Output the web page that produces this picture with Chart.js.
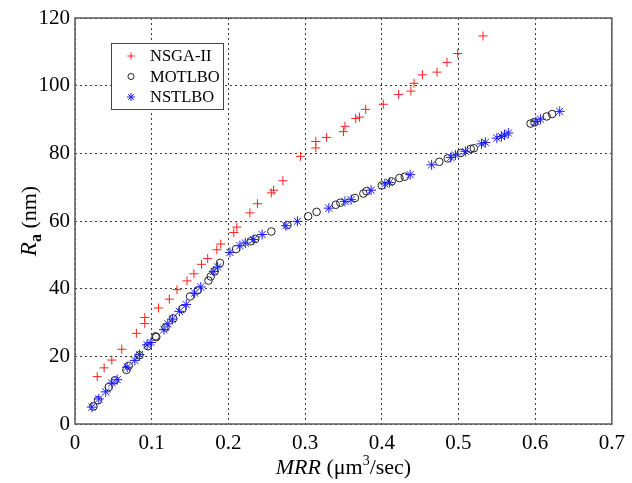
<!DOCTYPE html>
<html>
<head>
<meta charset="utf-8">
<script src="https://cdn.jsdelivr.net/npm/chart.js@4"></script>
<style>
  body { margin: 0; background: #fff; }
  #wrap { width: 632px; height: 483px; }
</style>
</head>
<body>
<div id="wrap"><canvas id="paretoChart" width="632" height="483"></canvas></div>
<script>
// values: MRR (x) vs Ra (y)
const nsgaX = [0.029,0.038,0.048,0.061,0.080,0.091,0.091,0.109,0.123,0.133,0.146,0.155,0.165,0.173,0.185,0.190,0.207,0.211,0.228,0.238,0.256,0.259,0.271,0.294,0.314,0.314,0.328,0.350,0.352,0.366,0.371,0.379,0.402,0.422,0.438,0.442,0.453,0.472,0.485,0.499,0.532];
const nsgaY = [14.0,16.6,18.9,22.1,26.8,29.7,31.5,34.3,36.9,39.7,42.3,44.4,47.2,48.9,51.5,53.2,56.6,58.2,62.4,65.1,68.3,69.1,71.9,79.1,81.6,83.5,84.7,86.4,88.0,90.3,90.7,93.0,94.5,97.4,98.4,100.7,103.2,104.0,106.9,109.5,114.7];

const motlboX = [0.024,0.030,0.044,0.052,0.067,0.070,0.084,0.095,0.105,0.106,0.118,0.128,0.140,0.150,0.160,0.174,0.177,0.182,0.189,0.210,0.229,0.235,0.256,0.277,0.304,0.315,0.340,0.346,0.365,0.376,0.380,0.400,0.413,0.423,0.430,0.475,0.486,0.503,0.516,0.520,0.594,0.599,0.615,0.622];
const motlboY = [5.2,7.0,10.9,12.9,16.0,17.2,20.3,23.0,25.9,25.7,28.5,31.2,34.0,37.7,39.5,42.4,43.6,45.1,47.6,51.7,54.0,54.7,56.9,58.8,61.4,62.7,64.8,65.4,66.8,68.1,68.8,70.5,71.7,72.7,73.1,77.5,78.5,80.1,81.3,81.5,88.8,89.2,90.9,91.6];

const nstlboX = [0.022,0.031,0.040,0.048,0.055,0.068,0.078,0.084,0.094,0.099,0.116,0.121,0.127,0.136,0.145,0.156,0.164,0.181,0.186,0.202,0.215,0.222,0.233,0.244,0.275,0.290,0.331,0.352,0.360,0.386,0.404,0.410,0.437,0.465,0.490,0.496,0.509,0.530,0.535,0.550,0.556,0.560,0.565,0.601,0.607,0.632];
const nstlboY = [5.0,7.4,9.5,12.1,13.1,16.8,18.8,20.5,23.4,24.1,27.9,29.6,31.0,33.3,35.3,38.7,40.5,45.1,46.4,50.7,52.7,53.5,54.5,56.0,58.6,59.9,63.8,65.8,66.3,69.1,71.0,71.4,73.7,76.6,78.8,79.5,80.6,82.8,83.2,84.5,85.0,85.4,86.0,89.4,90.1,92.4];

const xTicks = [0, 0.1, 0.2, 0.3, 0.4, 0.5, 0.6, 0.7];
const yTicks = [0, 20, 40, 60, 80, 100, 120];

const toPoints = (xs, ys) => xs.map((x, i) => ({ x: x, y: ys[i] }));

const SERIF = '"Liberation Serif", "DejaVu Serif", serif';

const series = [
    { label: 'NSGA-II', pointStyle: 'cross', color: '#ff2020', radius: 4.5 },
    { label: 'MOTLBO', pointStyle: 'circle', color: '#222222', radius: 3.8 },
    { label: 'NSTLBO', pointStyle: 'star', color: '#1a1aff', radius: 5 }
];

const LEG = { x: 111, y: 43, w: 112, h: 66, row: 20.5 };

// frame, axis titles and the boxed legend, drawn like the MATLAB figure
const figureDecor = {
    id: 'figureDecor',
    afterDatasetsDraw(chart) {
        const ctx = chart.ctx;
        const a = chart.chartArea;
        ctx.save();
        ctx.strokeStyle = '#5a5a5a';
        ctx.lineWidth = 1.5;
        ctx.setLineDash([]);
        ctx.strokeRect(a.left, a.top, a.right - a.left, a.bottom - a.top);

        // legend box
        ctx.fillStyle = '#fff';
        ctx.fillRect(LEG.x, LEG.y, LEG.w, LEG.h);
        ctx.strokeStyle = '#444';
        ctx.lineWidth = 1;
        ctx.strokeRect(LEG.x + 0.5, LEG.y + 0.5, LEG.w, LEG.h);
        ctx.font = '16.5px ' + SERIF;
        ctx.textBaseline = 'middle';
        ctx.textAlign = 'left';
        series.forEach((s, i) => {
            const y = LEG.y + 13 + i * LEG.row;
            ctx.fillStyle = '#000';
            ctx.fillText(s.label, 150, y + 1);
            ctx.fillStyle = 'rgba(0,0,0,0)';
            ctx.strokeStyle = s.color;
            ctx.lineWidth = 1;
            Chart.helpers.drawPoint(ctx, {
                pointStyle: s.pointStyle, radius: s.radius * 0.8, rotation: 0, borderWidth: 1
            }, 131, y);
        });
        ctx.restore();

        // x title: MRR (µm³/sec)
        ctx.save();
        ctx.fillStyle = '#000';
        ctx.textBaseline = 'alphabetic';
        const parts = [
            { t: 'MRR', f: 'italic 22px ' + SERIF, dy: 0 },
            { t: ' (\u03bcm', f: '22px ' + SERIF, dy: 0 },
            { t: '3', f: '14px ' + SERIF, dy: -9 },
            { t: '/sec)', f: '22px ' + SERIF, dy: 0 }
        ];
        let total = 0;
        parts.forEach(p => { ctx.font = p.f; total += ctx.measureText(p.t).width; });
        let x = (a.left + a.right) / 2 - total / 2;
        const by = 474;
        parts.forEach(p => {
            ctx.font = p.f;
            ctx.fillText(p.t, x, by + p.dy);
            x += ctx.measureText(p.t).width;
        });

        // y title: Ra (nm), rotated
        ctx.translate(36, (a.top + a.bottom) / 2);
        ctx.rotate(-Math.PI / 2);
        const yparts = [
            { t: 'R', f: 'italic 23px ' + SERIF, dy: 0 },
            { t: 'a', f: 'bold 16px ' + SERIF, dy: 5 },
            { t: ' (nm)', f: '22px ' + SERIF, dy: 0 }
        ];
        total = 0;
        yparts.forEach(p => { ctx.font = p.f; total += ctx.measureText(p.t).width; });
        x = -total / 2;
        yparts.forEach(p => {
            ctx.font = p.f;
            ctx.fillText(p.t, x, p.dy);
            x += ctx.measureText(p.t).width;
        });
        ctx.restore();
    }
};

const gridLines = {
    color: '#3a3a3a',
    lineWidth: 1,
    drawTicks: false
};

new Chart(document.getElementById('paretoChart'), {
    type: 'scatter',
    data: {
        datasets: [
            { label: 'NSTLBO', data: toPoints(nstlboX, nstlboY), pointStyle: 'star',
              pointRadius: 5, borderColor: '#1a1aff', backgroundColor: 'rgba(0,0,0,0)', borderWidth: 1 },
            { label: 'MOTLBO', data: toPoints(motlboX, motlboY), pointStyle: 'circle',
              pointRadius: 3.8, borderColor: '#222222', backgroundColor: 'rgba(0,0,0,0)', borderWidth: 1 },
            { label: 'NSGA-II', data: toPoints(nsgaX, nsgaY), pointStyle: 'cross',
              pointRadius: 4.5, borderColor: '#ff2020', backgroundColor: 'rgba(0,0,0,0)', borderWidth: 1 }
        ]
    },
    options: {
        responsive: false,
        animation: false,
        layout: { padding: { left: 0, right: 17, top: 18, bottom: 0 } },
        plugins: { legend: { display: false }, tooltip: { enabled: false } },
        scales: {
            x: {
                type: 'linear', min: 0, max: 0.7,
                afterBuildTicks: s => { s.ticks = xTicks.map(v => ({ value: v })); },
                afterFit: s => { s.height = 59; },
                grid: gridLines,
                border: { display: false, dash: [2, 3] },
                ticks: {
                    color: '#000', padding: 7,
                    font: { family: SERIF, size: 21 },
                    callback: v => (v === 0 ? '0' : v.toFixed(1))
                }
            },
            y: {
                type: 'linear', min: 0, max: 120,
                afterBuildTicks: s => { s.ticks = yTicks.map(v => ({ value: v })); },
                afterFit: s => { s.width = 75; },
                grid: gridLines,
                border: { display: false, dash: [2, 3] },
                ticks: {
                    color: '#000', padding: 5,
                    font: { family: SERIF, size: 21 }
                }
            }
        }
    },
    plugins: [figureDecor]
});
</script>
</body>
</html>
